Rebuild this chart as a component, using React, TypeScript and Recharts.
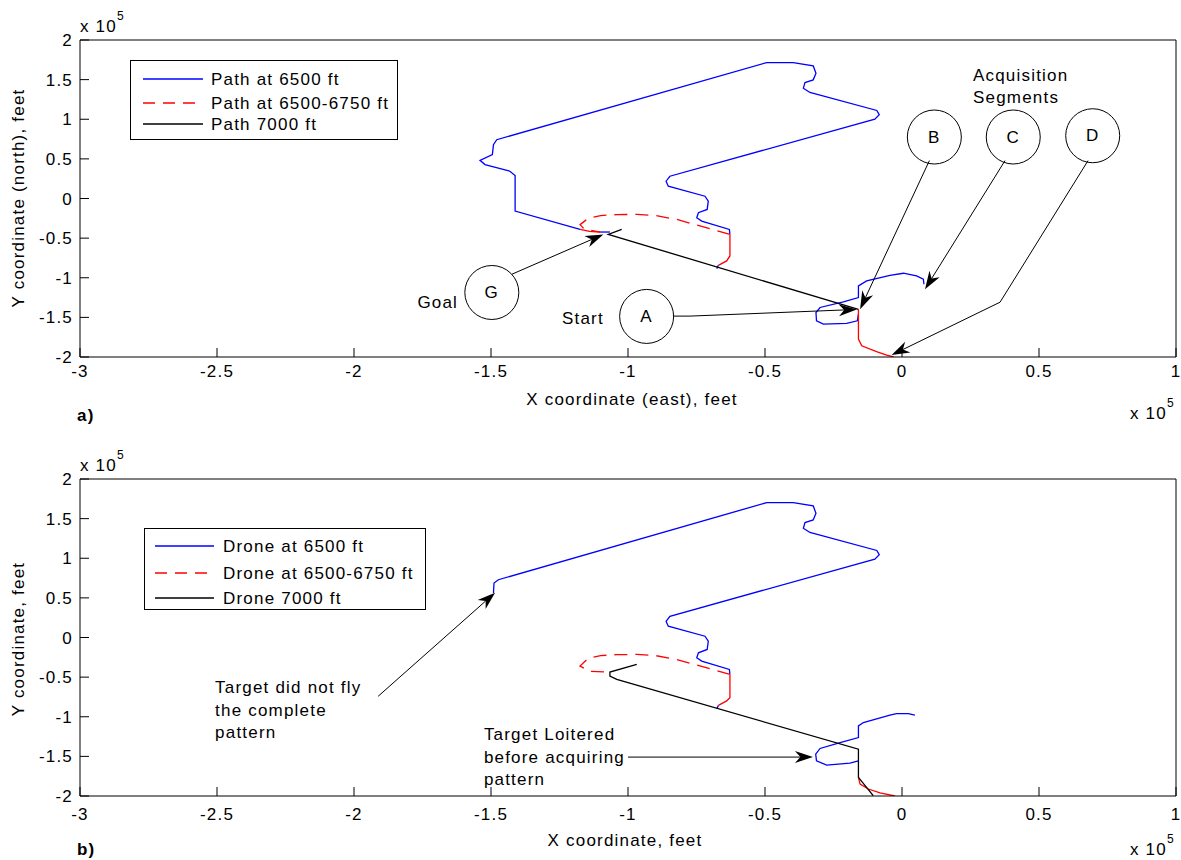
import React from "react";
import { LineChart, Line, XAxis, YAxis, ReferenceLine, ReferenceDot, Legend } from "recharts";

type Pt = [number, number];

const X_TICKS = [-3, -2.5, -2, -1.5, -1, -0.5, 0, 0.5, 1];
const Y_TICKS = [-2, -1.5, -1, -0.5, 0, 0.5, 1, 1.5, 2];

// ---- panel a) paths (units of 1e5 ft)
const A_BLUE: Pt[][] = [
  [[-1.175, -0.39], [-1.412, -0.159], [-1.412, 0.289], [-1.431, 0.344], [-1.522, 0.428], [-1.54, 0.482], [-1.495, 0.553], [-1.491, 0.679], [-1.479, 0.742], [-0.494, 1.715], [-0.397, 1.715], [-0.324, 1.673], [-0.314, 1.581], [-0.324, 1.497], [-0.354, 1.463], [-0.36, 1.392], [-0.336, 1.338], [-0.092, 1.111], [-0.083, 1.057], [-0.099, 1.002], [-0.847, 0.281], [-0.861, 0.218], [-0.853, 0.155], [-0.719, 0.029], [-0.707, -0.034], [-0.711, -0.138], [-0.743, -0.18], [-0.749, -0.243], [-0.731, -0.285], [-0.63, -0.39], [-0.628, -0.453]],
  [[-0.67, -0.843], [-0.676, -0.885]],
  [[-1.102, -0.423], [-1.066, -0.423]],
  [[-0.159, -1.46], [-0.163, -1.543], [-0.202, -1.577], [-0.287, -1.585], [-0.312, -1.543], [-0.314, -1.438], [-0.299, -1.375], [-0.214, -1.304], [-0.159, -1.25], [-0.159, -1.103], [-0.129, -1.04], [-0.044, -0.969], [0.005, -0.943], [0.053, -0.977], [0.078, -1.019], [0.08, -1.082]],
];
const A_RED: Pt[][] = [
  [[-0.628, -0.453], [-0.628, -0.725], [-0.64, -0.788], [-0.67, -0.843]],
  [[-1.175, -0.39], [-1.14, -0.415], [-1.102, -0.423]],
  [[-0.159, -1.4], [-0.159, -1.774], [-0.147, -1.858], [-0.093, -1.933], [-0.056, -1.975], [-0.03, -2.0]],
];
const A_DASH: Pt[][] = [
  [[-0.628, -0.453], [-0.822, -0.264], [-0.9, -0.215], [-0.968, -0.201], [-1.04, -0.203], [-1.1, -0.215], [-1.145, -0.25], [-1.175, -0.33], [-1.16, -0.385], [-1.102, -0.423]],
];
const A_BLACK: Pt[][] = [
  [[-1.023, -0.39], [-1.072, -0.453], [-0.159, -1.4]],
];

// ---- panel b) paths
const B_BLUE: Pt[][] = [
  [[-1.491, 0.561], [-1.489, 0.687], [-1.473, 0.729], [-0.494, 1.702], [-0.397, 1.702], [-0.324, 1.66], [-0.314, 1.568], [-0.324, 1.484], [-0.354, 1.45], [-0.36, 1.379], [-0.336, 1.325], [-0.092, 1.098], [-0.083, 1.044], [-0.099, 0.989], [-0.847, 0.268], [-0.861, 0.205], [-0.853, 0.142], [-0.719, 0.016], [-0.707, -0.047], [-0.711, -0.151], [-0.743, -0.193], [-0.749, -0.256], [-0.731, -0.298], [-0.63, -0.403], [-0.628, -0.466]],
  [[-0.67, -0.856], [-0.676, -0.898]],
  [[-0.159, -1.556], [-0.19, -1.585], [-0.275, -1.61], [-0.312, -1.556], [-0.315, -1.472], [-0.299, -1.4], [-0.226, -1.325], [-0.159, -1.262], [-0.159, -1.115], [-0.141, -1.073], [-0.044, -0.981], [-0.02, -0.96], [0.023, -0.96], [0.047, -0.981]],
];
const B_RED: Pt[][] = [
  [[-0.628, -0.466], [-0.628, -0.759], [-0.64, -0.8], [-0.67, -0.856]],
  [[-0.159, -1.765], [-0.153, -1.849], [-0.123, -1.912], [-0.08, -1.962], [-0.026, -2.0]],
];
const B_DASH: Pt[][] = [
  [[-0.628, -0.466], [-0.822, -0.277], [-0.9, -0.228], [-0.968, -0.214], [-1.04, -0.216], [-1.1, -0.228], [-1.145, -0.263], [-1.175, -0.36], [-1.139, -0.428], [-1.078, -0.436]],
];
const B_BLACK: Pt[][] = [
  [[-0.968, -0.34], [-1.066, -0.436], [-1.066, -0.487], [-1.041, -0.529], [-0.159, -1.409], [-0.159, -1.765], [-0.105, -1.996]],
];

const A_LEGEND = ["Path at 6500 ft", "Path at 6500-6750 ft", "Path 7000 ft"];
const B_LEGEND = ["Drone at 6500 ft", "Drone at 6500-6750 ft", "Drone 7000 ft"];

// annotations (data coords)
const A_CIRCLES = [
  { label: "A", x: -0.932, y: -1.488 },
  { label: "G", x: -1.497, y: -1.186 },
  { label: "B", x: 0.118, y: 0.776 },
  { label: "C", x: 0.406, y: 0.776 },
  { label: "D", x: 0.696, y: 0.792 },
];
const A_ARROWS: { from: Pt; to: Pt; head: boolean }[] = [
  { from: [-0.836, -1.484], to: [-0.774, -1.484], head: false },
  { from: [-0.774, -1.484], to: [-0.165, -1.4], head: true },
  { from: [-1.424, -0.956], to: [-1.09, -0.453], head: true },
  { from: [0.1, 0.478], to: [-0.153, -1.396], head: true },
  { from: [0.376, 0.478], to: [0.084, -1.145], head: true },
  { from: [0.679, 0.478], to: [0.358, -1.308], head: false },
  { from: [0.358, -1.308], to: [-0.038, -1.975], head: true },
];
const A_NOTES = [
  { x: -1.088, y: -1.509, lines: ["Start"], anchor: "end" },
  { x: -1.62, y: -1.308, lines: ["Goal"], anchor: "end" },
  { x: 0.259, y: 1.56, lines: ["Acquisition", "Segments"], anchor: "start" },
];
const B_ARROWS: { from: Pt; to: Pt; head: boolean }[] = [
  { from: [-1.912, -0.742], to: [-1.485, 0.566], head: true },
  { from: [-1.0, -1.509], to: [-0.325, -1.509], head: true },
];
const B_NOTES = [
  { x: -2.507, y: -0.629, lines: ["Target did not fly", "the complete", "pattern"], anchor: "start" },
  { x: -1.526, y: -1.22, lines: ["Target Loitered", "before acquiring", "pattern"], anchor: "start" },
];

const FONT = '"Liberation Sans", Arial, Helvetica, sans-serif';
const TXT = { fontFamily: FONT, fontSize: 17, letterSpacing: 1.2, fill: "#000" };
const BLUE = "#0000ff";
const RED = "#ff0000";

const toRows = (seg: Pt[]) => seg.map(([x, y]) => ({ x, y }));

function arrowShape(head: boolean) {
  return (p: any) => {
    const { x1, y1, x2, y2 } = p;
    const dx = x2 - x1, dy = y2 - y1;
    const len = Math.hypot(dx, dy) || 1;
    const ux = dx / len, uy = dy / len;
    const nx = -uy, ny = ux;
    const L = 18, W = 6;
    const bx = x2 - ux * L, by = y2 - uy * L;
    const mx = x2 - ux * L * 0.7, my = y2 - uy * L * 0.7;
    return (
      <g>
        <line x1={x1} y1={y1} x2={head ? mx : x2} y2={head ? my : y2} stroke="#000" strokeWidth={1} />
        {head && (
          <polygon
            points={`${x2},${y2} ${bx + nx * W},${by + ny * W} ${mx},${my} ${bx - nx * W},${by - ny * W}`}
            fill="#000"
          />
        )}
      </g>
    );
  };
}

function LegendBox({ labels, w, h, rows, lx, tx }: any) {
  const styles = [
    { stroke: BLUE, dash: undefined },
    { stroke: RED, dash: "12 8" },
    { stroke: "#000", dash: undefined },
  ];
  return (
    <div style={{ width: w, height: h, border: "1px solid #000", background: "#fff", boxSizing: "border-box" }}>
      <svg width={w - 2} height={h - 2} style={{ display: "block" }}>
        {labels.map((lab: string, i: number) => (
          <g key={lab}>
            <line x1={lx[0]} x2={lx[1]} y1={rows[i]} y2={rows[i]} stroke={styles[i].stroke} strokeWidth={1.3} strokeDasharray={styles[i].dash} />
            <text x={tx} y={rows[i]} dominantBaseline="central" {...TXT}>{lab}</text>
          </g>
        ))}
      </svg>
    </div>
  );
}

function Panel(props: any) {
  const { top, blue, red, dash, black, legend, circles, arrows, notes, tickGap } = props;
  const line = (seg: Pt[], key: string, color: string, dashed?: boolean) => (
    <Line
      key={key}
      data={toRows(seg)}
      dataKey="y"
      type="linear"
      stroke={color}
      strokeWidth={1.3}
      strokeDasharray={dashed ? "13 8" : undefined}
      dot={false}
      activeDot={false}
      isAnimationActive={false}
      legendType="none"
    />
  );
  return (
    <div style={{ position: "absolute", left: 0, top }}>
      <LineChart width={1181} height={400} margin={{ top: 39, right: 4, bottom: 13, left: 0 }}>
        <XAxis xAxisId={0} dataKey="x" type="number" domain={[-3, 1]} ticks={X_TICKS} interval={0} allowDataOverflow
          stroke="#000" tickSize={-9} tickMargin={tickGap} height={30} tick={TXT} />
        <XAxis xAxisId="t" orientation="top" dataKey="x" type="number" domain={[-3, 1]} ticks={X_TICKS} interval={0} allowDataOverflow
          stroke="#000" tickSize={-9} tick={false} height={1} />
        <YAxis yAxisId={0} type="number" domain={[-2, 2]} ticks={Y_TICKS} interval={0} allowDataOverflow
          stroke="#000" tickSize={-9} tickMargin={16} width={80} tick={TXT} />
        <YAxis yAxisId="r" orientation="right" type="number" domain={[-2, 2]} ticks={Y_TICKS} interval={0} allowDataOverflow
          stroke="#000" tickSize={-9} tick={false} width={1} />
        {blue.map((s: Pt[], i: number) => line(s, "b" + i, BLUE))}
        {red.map((s: Pt[], i: number) => line(s, "r" + i, RED))}
        {dash.map((s: Pt[], i: number) => line(s, "d" + i, RED, true))}
        {black.map((s: Pt[], i: number) => line(s, "k" + i, "#000"))}
        {arrows.map((a: any, i: number) => (
          <ReferenceLine key={"a" + i} segment={[{ x: a.from[0], y: a.from[1] }, { x: a.to[0], y: a.to[1] }]} shape={arrowShape(a.head)} />
        ))}
        {circles.map((c: any) => (
          <ReferenceDot key={c.label} x={c.x} y={c.y} r={27}
            shape={(p: any) => (
              <g>
                <circle cx={p.cx} cy={p.cy} r={27} fill="none" stroke="#000" strokeWidth={1} />
                <text x={p.cx} y={p.cy} textAnchor="middle" dominantBaseline="central" {...TXT}>{c.label}</text>
              </g>
            )}
          />
        ))}
        {notes.map((n: any, i: number) => (
          <ReferenceDot key={"n" + i} x={n.x} y={n.y} r={0}
            shape={(p: any) => (
              <text x={p.cx} y={p.cy} textAnchor={n.anchor} dominantBaseline="central" {...TXT}>
                {n.lines.map((t: string, j: number) => (
                  <tspan key={j} x={p.cx} dy={j === 0 ? 0 : 22.5}>{t}</tspan>
                ))}
              </text>
            )}
          />
        ))}
        <Legend layout="vertical" align="center" verticalAlign="middle"
          wrapperStyle={{ left: legend.left, top: legend.top, width: legend.w, height: legend.h }}
          content={() => <LegendBox {...legend} />} />
      </LineChart>
    </div>
  );
}

function Sci({ x, y }: { x: number; y: number }) {
  return (
    <g>
      <text x={x} y={y} {...TXT}>x 10</text>
      <text x={x + 37} y={y - 12} {...TXT} fontSize={12}>5</text>
    </g>
  );
}

export default function App() {
  return (
    <div style={{ position: "relative", width: 1181, height: 860, background: "#fff", overflow: "hidden" }}>
      <style>{"body{margin:0;background:#fff}"}</style>
      <Panel top={0} blue={A_BLUE} red={A_RED} dash={A_DASH} black={A_BLACK} tickGap={17}
        circles={A_CIRCLES} arrows={A_ARROWS} notes={A_NOTES}
        legend={{ labels: A_LEGEND, left: 130, top: 60, w: 268, h: 80, rows: [18, 42, 63], lx: [12, 72], tx: 80 }} />
      <Panel top={439} blue={B_BLUE} red={B_RED} dash={B_DASH} black={B_BLACK} tickGap={21}
        circles={[]} arrows={B_ARROWS} notes={B_NOTES}
        legend={{ labels: B_LEGEND, left: 144, top: 89, w: 282, h: 82, rows: [17, 44, 69], lx: [10, 69], tx: 78 }} />
      <svg width={1181} height={860} style={{ position: "absolute", left: 0, top: 0, pointerEvents: "none" }}>
        <Sci x={80} y={32} />
        <text transform="translate(24,198) rotate(-90)" textAnchor="middle" {...TXT}>Y coordinate (north), feet</text>
        <text x={632} y={405} textAnchor="middle" {...TXT}>X coordinate (east), feet</text>
        <Sci x={1130} y={419} />
        <text x={77} y={421} {...TXT} fontWeight="bold">a)</text>
        <Sci x={80} y={471} />
        <text transform="translate(24,639) rotate(-90)" textAnchor="middle" {...TXT}>Y coordinate, feet</text>
        <text x={625} y={846} textAnchor="middle" {...TXT}>X coordinate, feet</text>
        <Sci x={1130} y={855} />
        <text x={77} y={855} {...TXT} fontWeight="bold">b)</text>
      </svg>
    </div>
  );
}
